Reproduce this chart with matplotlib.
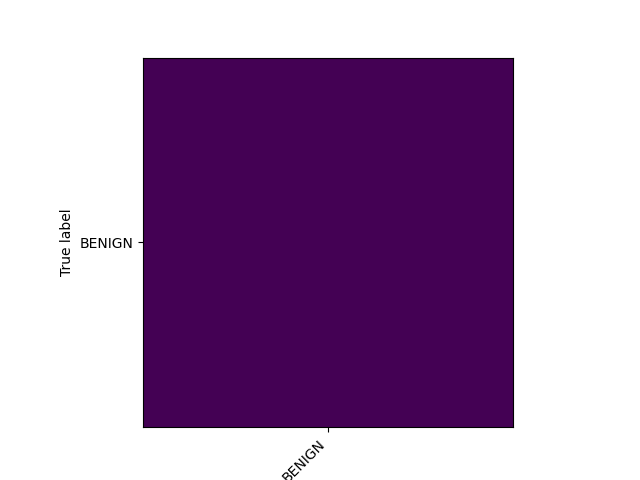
import matplotlib
matplotlib.use("Agg")
import matplotlib.pyplot as plt
import numpy as np

labels = ["BENIGN"]
counts = [[1000]]

fig, ax = plt.subplots(figsize=(6.4, 4.8), dpi=100)
ax.imshow(np.array(counts), cmap="viridis")
ax.set_xticks(range(len(labels)))
ax.set_xticklabels(labels, rotation=45, ha="right")
ax.set_yticks(range(len(labels)))
ax.set_yticklabels(labels)
ax.set_ylabel("True label")
fig.savefig("out.png")
